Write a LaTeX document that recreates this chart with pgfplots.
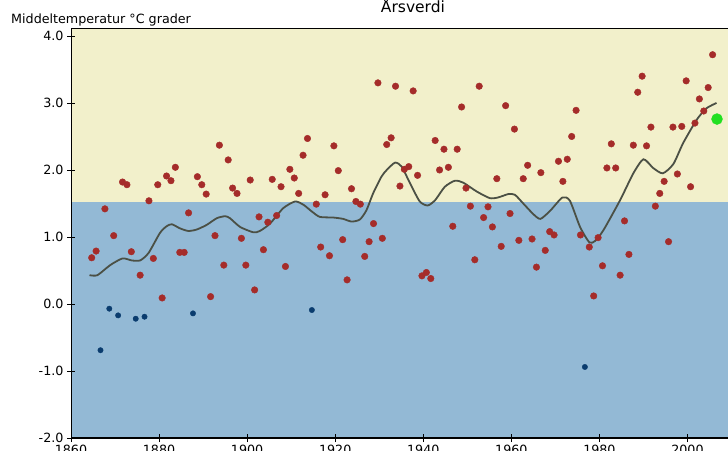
\documentclass[border=0pt]{standalone}
\usepackage{pgfplots}
\pgfplotsset{compat=1.18}
\usepackage{pgfplotstable}
\usepackage{fontspec}
\setmainfont{DejaVu Sans}
\definecolor{bgyellow}{HTML}{F2F0CB}
\definecolor{bgblue}{HTML}{93B9D5}
\definecolor{ptred}{HTML}{A52C2A}
\definecolor{ptblue}{HTML}{0A3C6E}
\definecolor{ptgreen}{HTML}{22E022}
\definecolor{smooth}{HTML}{4B5045}

\pgfplotstableread{
year v
1864 0.69
1865 0.79
1867 1.42
1869 1.02
1871 1.82
1872 1.78
1873 0.78
1875 0.43
1877 1.54
1878 0.68
1879 1.78
1880 0.09
1881 1.91
1882 1.84
1883 2.04
1884 0.77
1885 0.77
1886 1.36
1888 1.90
1889 1.78
1890 1.64
1891 0.11
1892 1.02
1893 2.37
1894 0.58
1895 2.15
1896 1.73
1897 1.65
1898 0.98
1899 0.58
1900 1.85
1901 0.21
1902 1.30
1903 0.81
1904 1.22
1905 1.86
1906 1.32
1907 1.75
1908 0.56
1909 2.01
1910 1.88
1911 1.65
1912 2.22
1913 2.47
1915 1.49
1916 0.85
1917 1.63
1918 0.72
1919 2.36
1920 1.99
1921 0.96
1922 0.36
1923 1.72
1924 1.53
1925 1.49
1926 0.71
1927 0.93
1928 1.20
1929 3.30
1930 0.98
1931 2.38
1932 2.48
1933 3.25
1934 1.76
1935 2.01
1936 2.05
1937 3.18
1938 1.92
1939 0.42
1940 0.47
1941 0.38
1942 2.44
1943 2.00
1944 2.31
1945 2.04
1946 1.16
1947 2.31
1948 2.94
1949 1.73
1950 1.46
1951 0.66
1952 3.25
1953 1.29
1954 1.45
1955 1.15
1956 1.87
1957 0.86
1958 2.96
1959 1.35
1960 2.61
1961 0.95
1962 1.87
1963 2.07
1964 0.97
1965 0.55
1966 1.96
1967 0.80
1968 1.08
1969 1.03
1970 2.13
1971 1.83
1972 2.16
1973 2.50
1974 2.89
1975 1.03
1977 0.85
1978 0.12
1979 0.99
1980 0.57
1981 2.03
1982 2.39
1983 2.03
1984 0.43
1985 1.24
1986 0.74
1987 2.37
1988 3.16
1989 3.40
1990 2.36
1991 2.64
1992 1.46
1993 1.65
1994 1.83
1995 0.93
1996 2.64
1997 1.94
1998 2.65
1999 3.33
2000 1.75
2001 2.70
2002 3.06
2003 2.88
2004 3.23
2005 3.72
}\redpts

\pgfplotstableread{
year v
1866 -0.69
1868 -0.07
1870 -0.17
1874 -0.22
1876 -0.19
1887 -0.14
1914 -0.09
1976 -0.94
}\bluepts

\pgfplotstableread{
year v
2006 2.76
}\greenpts

\pgfplotstableread{
x v
1864.2 0.43
1866.0 0.43
1868.9 0.58
1871.7 0.68
1873.8 0.65
1875.7 0.65
1877.6 0.76
1880.2 1.06
1881.7 1.16
1882.9 1.19
1884.7 1.13
1886.6 1.09
1888.5 1.11
1890.8 1.18
1893.1 1.28
1895.0 1.31
1896.1 1.28
1898.4 1.15
1901.4 1.07
1902.9 1.09
1905.2 1.20
1908.2 1.43
1910.9 1.53
1912.8 1.48
1914.7 1.38
1916.5 1.30
1919.6 1.29
1921.8 1.27
1923.7 1.23
1925.6 1.26
1927.1 1.40
1928.6 1.65
1930.5 1.90
1931.7 2.00
1933.6 2.11
1935.1 2.05
1937.0 1.80
1939.2 1.53
1941.0 1.47
1942.7 1.55
1944.9 1.75
1947.2 1.84
1949.1 1.81
1952.1 1.68
1955.1 1.58
1957.0 1.59
1959.3 1.64
1960.8 1.63
1962.7 1.50
1965.0 1.34
1966.6 1.27
1968.8 1.39
1971.6 1.59
1973.3 1.54
1975.6 1.15
1977.7 0.92
1979.0 0.94
1980.9 1.10
1984.7 1.55
1987.7 1.95
1990.0 2.16
1992.2 2.03
1994.4 1.95
1996.8 2.09
1999.0 2.40
2002.1 2.75
2004.3 2.92
2006.6 3.00
}\smoothline

\begin{document}
\begin{tikzpicture}
\begin{axis}[
  scale only axis,
  width=657pt, height=409pt,
  xmin=1860, xmax=2009.2,
  ymin=-2, ymax=4.104,
  axis x line*=bottom,
  axis y line*=left,
  axis line style={-, black, line width=0.9pt},
  x axis line style={line width=1.6pt},
  axis on top,
  xtick={1860,1880,...,2000},
  ytick={-2,-1,...,4},
  tick align=center,
  major tick length=8pt,
  tick style={black, line width=0.8pt},
  xticklabel style={/pgf/number format/1000 sep={}},
  yticklabel style={/pgf/number format/.cd, fixed, fixed zerofill, precision=1},
  /pgf/number format/assume math mode=true,
  tick label style={font=\fontsize{12.7}{15}\selectfont, black},
  clip mode=individual,
]
\fill[bgblue] (rel axis cs:0,0) rectangle (axis cs:2009.2,1.52);
\fill[bgyellow] (axis cs:1860,1.52) rectangle (rel axis cs:1,1);
\addplot[smooth, color=smooth, line width=1.8pt, tension=0.4] table[x=x, y=v] {\smoothline};
\addplot[only marks, mark=*, mark size=3.3pt, color=ptred, mark options={fill=ptred}] table[x expr=\thisrow{year}+0.7, y=v] {\redpts};
\addplot[only marks, mark=*, mark size=2.7pt, color=ptblue, mark options={fill=ptblue}] table[x expr=\thisrow{year}+0.7, y=v] {\bluepts};
\addplot[only marks, mark=*, mark size=5.5pt, color=ptgreen, mark options={fill=ptgreen}] table[x expr=\thisrow{year}+0.7, y=v] {\greenpts};
\coordinate (tl) at (rel axis cs:0,1);
\coordinate (tr) at (rel axis cs:1,1);
\coordinate (tt) at (rel axis cs:0.5205,1);
\end{axis}
\draw[black, line width=1pt] (tl) -- (tr);
\node[anchor=base, font=\fontsize{15.5}{18}\selectfont] at ([yshift=16pt]tt) {Årsverdi};
\node[anchor=base west, font=\fontsize{12.7}{15}\selectfont, inner sep=0pt] at ([xshift=-60pt, yshift=5pt]tl) {Middeltemperatur °C grader};
\pgfresetboundingbox
\path[use as bounding box] (-71pt,-12pt) rectangle (657pt,438pt);
\end{tikzpicture}
\end{document}
